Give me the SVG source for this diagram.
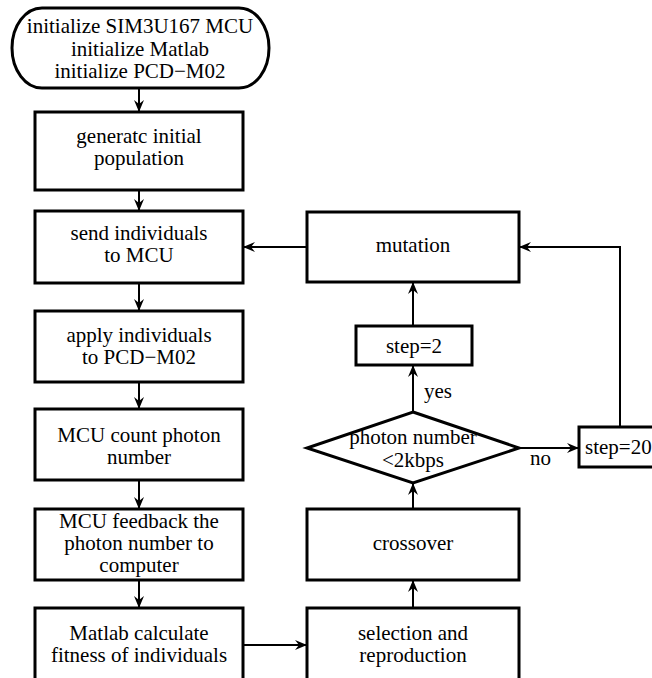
<svg xmlns="http://www.w3.org/2000/svg" width="652" height="678" viewBox="0 0 652 678">
<style>
.box{fill:#fff;stroke:#000;stroke-width:3}
.ln{fill:none;stroke:#000;stroke-width:2}
text{font-family:'Liberation Serif','DejaVu Serif',serif;font-size:21px;fill:#000;text-anchor:middle}
.l{text-anchor:start}
</style>
<defs>
<marker id="ah" viewBox="0 0 12 10" refX="11" refY="5" markerWidth="12" markerHeight="10" markerUnits="userSpaceOnUse" orient="auto">
<path d="M0,0 L12,5 L0,10 L4,5 z" fill="#000"/>
</marker>
</defs>
<rect width="652" height="678" fill="#fff"/>
<g id="connectors">
<line class="ln" x1="139" y1="89" x2="139" y2="111" marker-end="url(#ah)"/>
<line class="ln" x1="139" y1="190" x2="139" y2="210" marker-end="url(#ah)"/>
<line class="ln" x1="139" y1="283" x2="139" y2="310" marker-end="url(#ah)"/>
<line class="ln" x1="139" y1="382" x2="139" y2="408" marker-end="url(#ah)"/>
<line class="ln" x1="139" y1="480" x2="139" y2="508" marker-end="url(#ah)"/>
<line class="ln" x1="139" y1="580" x2="139" y2="607" marker-end="url(#ah)"/>
<line class="ln" x1="243" y1="645" x2="306" y2="645" marker-end="url(#ah)"/>
<line class="ln" x1="413" y1="608" x2="413" y2="581" marker-end="url(#ah)"/>
<line class="ln" x1="413" y1="509" x2="413" y2="484" marker-end="url(#ah)"/>
<line class="ln" x1="413" y1="412" x2="413" y2="366" marker-end="url(#ah)"/>
<line class="ln" x1="413" y1="326" x2="413" y2="283" marker-end="url(#ah)"/>
<line class="ln" x1="307" y1="247" x2="244" y2="247" marker-end="url(#ah)"/>
<line class="ln" x1="519" y1="448" x2="578" y2="448" marker-end="url(#ah)"/>
<polyline class="ln" points="620,427 620,247 520,247" marker-end="url(#ah)"/>
<text class="l" x="424" y="398">yes</text>
<text class="l" x="530" y="465">no</text>
</g>
<g id="init">
<rect class="box" x="12" y="8" width="257" height="80" rx="30" ry="40"/>
<text x="140" y="33">initialize SIM3U167 MCU</text>
<text x="140" y="56">initialize Matlab</text>
<text x="140" y="78">initialize PCD−M02</text>
</g>
<g id="generate">
<rect class="box" x="35" y="112" width="208" height="78"/>
<text x="139" y="143">generatc initial</text>
<text x="139" y="165">population</text>
</g>
<g id="send">
<rect class="box" x="35" y="211" width="208" height="72"/>
<text x="139" y="240">send individuals</text>
<text x="139" y="262">to MCU</text>
</g>
<g id="apply">
<rect class="box" x="35" y="311" width="208" height="71"/>
<text x="139" y="342">apply individuals</text>
<text x="139" y="364">to PCD−M02</text>
</g>
<g id="count">
<rect class="box" x="35" y="409" width="208" height="71"/>
<text x="139" y="442">MCU count photon</text>
<text x="139" y="464">number</text>
</g>
<g id="feedback">
<rect class="box" x="35" y="509" width="208" height="71"/>
<text x="139" y="528">MCU feedback the</text>
<text x="139" y="550">photon number to</text>
<text x="139" y="572">computer</text>
</g>
<g id="matlab">
<rect class="box" x="35" y="608" width="208" height="80"/>
<text x="139" y="640">Matlab calculate</text>
<text x="139" y="662">fitness of individuals</text>
</g>
<g id="selection">
<rect class="box" x="307" y="608" width="212" height="80"/>
<text x="413" y="640">selection and</text>
<text x="413" y="662">reproduction</text>
</g>
<g id="crossover">
<rect class="box" x="307" y="509" width="212" height="71"/>
<text x="413" y="550">crossover</text>
</g>
<g id="decision">
<polygon class="box" points="413,412 519,448 413,483 307,448"/>
<text x="413" y="444">photon number</text>
<text x="413" y="467">&lt;2kbps</text>
</g>
<g id="step2">
<rect class="box" x="356" y="326" width="116" height="39"/>
<text x="414" y="353">step=2</text>
</g>
<g id="mutation">
<rect class="box" x="307" y="212" width="212" height="70"/>
<text x="413" y="252">mutation</text>
</g>
<g id="step20">
<rect class="box" x="579" y="427" width="90" height="40"/>
<text class="l" x="585" y="454">step=20</text>
</g>
</svg>
